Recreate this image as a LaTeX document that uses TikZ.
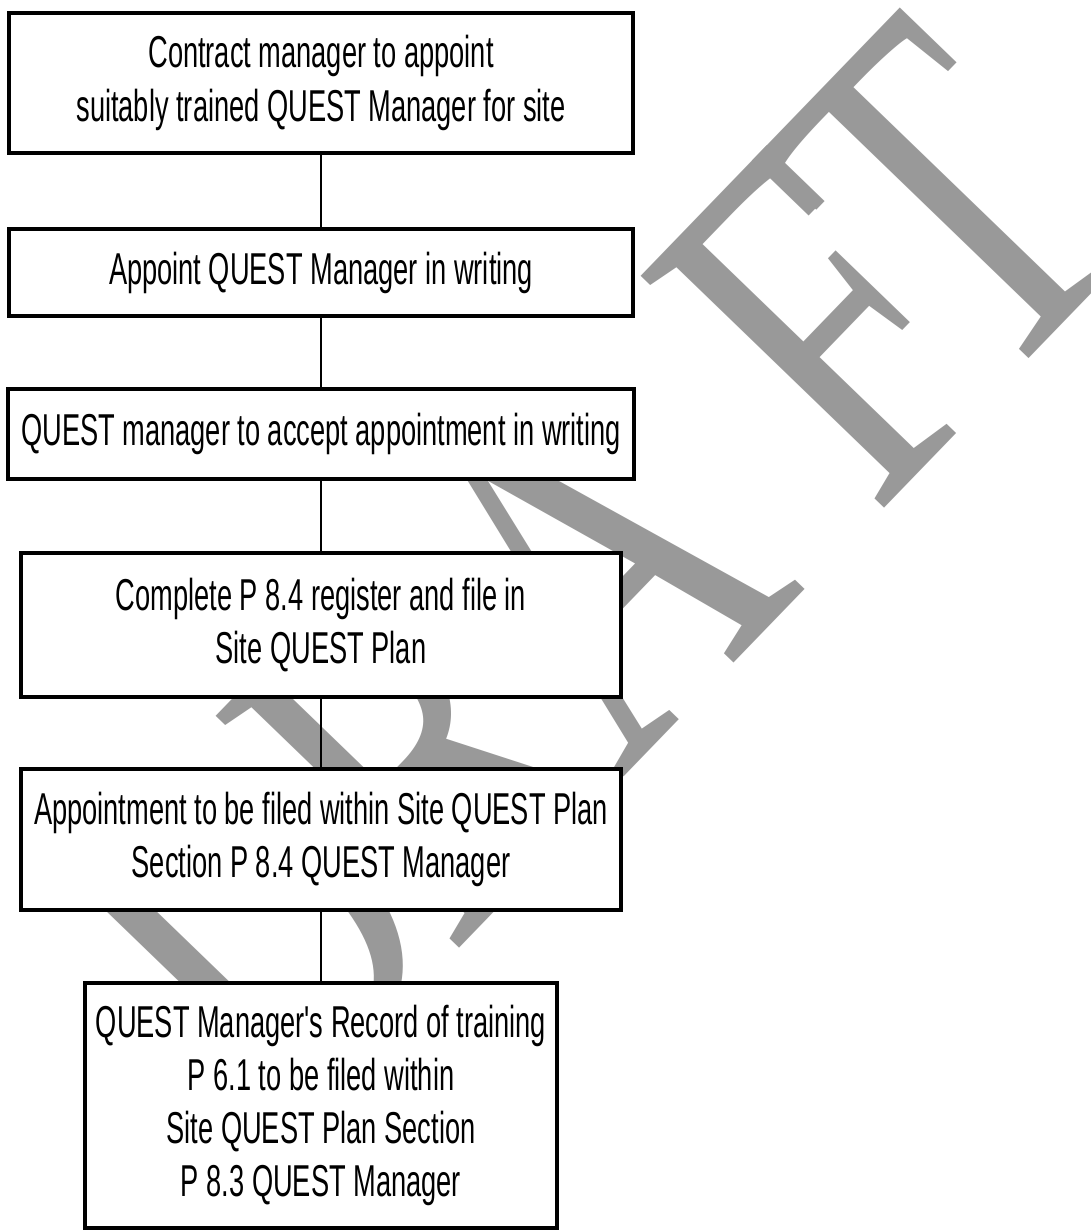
\documentclass[tikz,border=0pt]{standalone}
\usepackage{fontspec}
\newfontfamily\boxfont[FakeStretch=0.61]{Liberation Sans}
\newfontfamily\wmfont[FakeStretch=0.72]{Liberation Serif}
\begin{document}
\begin{tikzpicture}[x=0.01cm,y=-0.01cm,
  stepbox/.style={draw=black, fill=white, line width=1.15pt, inner sep=0pt,
    align=center, font=\boxfont\fontsize{12.7}{15.1}\selectfont},
  link/.style={line width=0.75pt},
  watermark/.style={text=black!40, inner sep=0pt,
    font=\wmfont\fontsize{146}{146}\selectfont}]
\useasboundingbox (0,0) rectangle (1090,1230);
\fill[white] (0,0) rectangle (1090,1230);

% background stamp
\node[watermark, rotate=46, anchor=base west] (wm) at (278,1136)
  {D\kern-5.5pt R\kern0pt A\kern28pt F\kern-12pt T};

% process steps
\node[stepbox, minimum width=6.24cm, minimum height=1.40cm] (b1) at (321,83)
  {Contract manager to appoint\\suitably trained QUEST Manager for site};
\node[stepbox, minimum width=6.24cm, minimum height=0.87cm] (b2) at (321,272.5)
  {Appoint QUEST Manager in writing};
\node[stepbox, minimum width=6.26cm, minimum height=0.90cm] (b3) at (321,434)
  {QUEST manager to accept appointment in writing};
\node[stepbox, minimum width=6.00cm, minimum height=1.44cm] (b4) at (321,625)
  {Complete P 8.4 register and file in\\Site QUEST Plan};
\node[stepbox, minimum width=6.00cm, minimum height=1.41cm] (b5) at (321,839.5)
  {Appointment to be filed within Site QUEST Plan\\Section P 8.4 QUEST Manager};
\node[stepbox, minimum width=4.71cm, minimum height=2.45cm] (b6) at (321,1105.5)
  {QUEST Manager's Record of training\\P 6.1 to be filed within\\Site QUEST Plan Section\\P 8.3 QUEST Manager};

% connectors
\draw[link] (b1.south) -- (b2.north);
\draw[link] (b2.south) -- (b3.north);
\draw[link] (b3.south) -- (b4.north);
\draw[link] (b4.south) -- (b5.north);
\draw[link] (b5.south) -- (b6.north);
\end{tikzpicture}
\end{document}
